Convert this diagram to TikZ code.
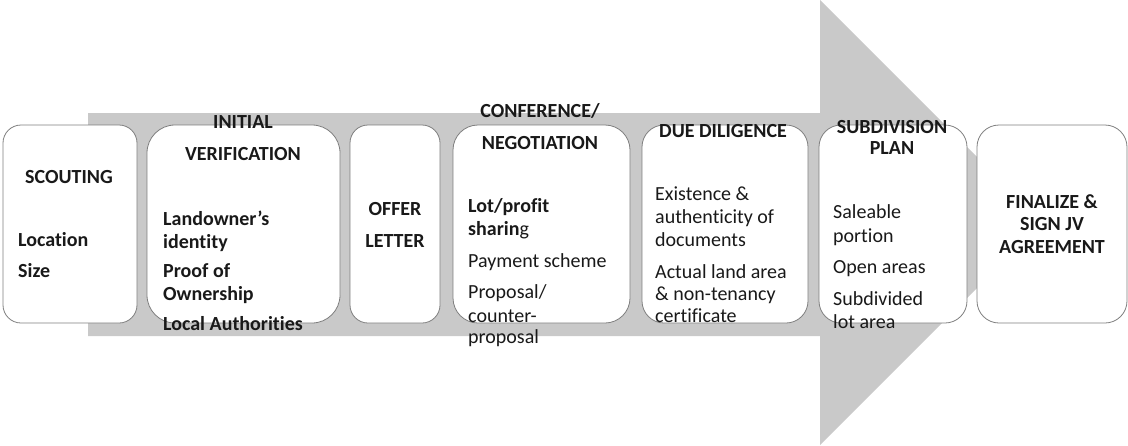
\documentclass[tikz,border=0pt]{standalone}
\usepackage{fontspec}
\setmainfont{Carlito}[Ligatures=NoCommon]
\usetikzlibrary{positioning}
\definecolor{bandgray}{HTML}{C9C9C9}
\definecolor{edgegray}{HTML}{7F7F7F}

\begin{document}
\begin{tikzpicture}[x=1pt,y=-1pt,
  every node/.style={font=\fontsize{20}{24}\selectfont, text=black!90},
  stepbox/.style={draw=edgegray, line width=0.8pt, fill=white, inner sep=0pt, minimum height=198pt},
  head/.style={font=\fontsize{20}{24}\selectfont\bfseries, align=center, anchor=base, inner sep=0pt},
  item/.style={align=left, anchor=base west, inner sep=0pt}]
\useasboundingbox (0,0) rectangle (1128,445);
% big arrow behind the steps
\fill[bandgray] (88,113) -- (820,113) -- (820,0) -- (1042.5,222.5) -- (820,445) -- (820,336) -- (88,336) -- cycle;
% steps
\node[stepbox, rounded corners=18pt, minimum width=134pt] (scout) at (70,224) {};
\node[stepbox, rounded corners=28pt, minimum width=193pt] (verif) at (243.5,224) {};
\node[stepbox, rounded corners=18pt, minimum width=90pt] (offer) at (395,224) {};
\node[stepbox, rounded corners=25pt, minimum width=177pt] (confer) at (541.5,224) {};
\node[stepbox, rounded corners=22pt, minimum width=166pt] (dilig) at (725,224) {};
\node[stepbox, rounded corners=22pt, minimum width=148pt] (subdiv) at (893,224) {};
\node[stepbox, rounded corners=22pt, minimum width=150pt] (final) at (1052,224) {};
% texts (base = last line)
\node[head] (scouthead) at (69,183) {SCOUTING};
\node[item] (scoutitems) at (18,277) {\textbf{Location}\\[7pt]\textbf{Size}};
\node[head] (verifhead) at (243,160) {INITIAL\\[8pt]VERIFICATION};
\node[item] (verifitems) at (163,330) {\textbf{Landowner’s}\\[-1pt]\textbf{identity}\\[5pt]\textbf{Proof of}\\[-1pt]\textbf{Ownership}\\[6pt]\textbf{Local Authorities}};
\node[head] (offerhead) at (395,247) {OFFER\\[8pt]LETTER};
\node[head] (conferhead) at (540,149) {CONFERENCE/\\[8pt]NEGOTIATION};
\node[item] (conferitems) at (468,343) {\textbf{Lot/profit}\\[-1pt]\textbf{sharin}g\\[8pt]Payment scheme\\[7pt]Proposal/\\counter-\\[-3pt]proposal};
\node[head] (dilighead) at (723,137) {DUE DILIGENCE};
\node[item] (diligitems) at (655,322) {Existence \&\\[-1pt]authenticity of\\[-1pt]documents\\[8pt]Actual land area\\[-2pt]\& non-tenancy\\[-2pt]certificate};
\node[head] (subdivhead) at (892,154) {SUBDIVISION\\[-3pt]PLAN};
\node[item] (subdivitems) at (833,328) {Saleable\\portion\\[7pt]Open areas\\[8pt]Subdivided\\[-1pt]lot area};
\node[head] (finalhead) at (1052,253) {FINALIZE \&\\[-2pt]SIGN JV\\[-1pt]AGREEMENT};
\end{tikzpicture}
\end{document}
